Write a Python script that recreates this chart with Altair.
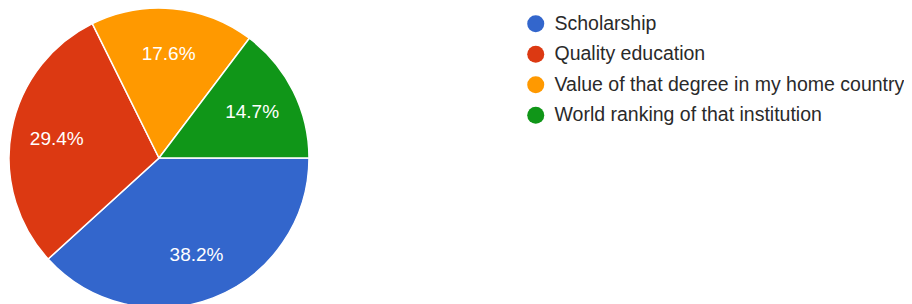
import math
import altair as alt
import pandas as pd

categories = ["Scholarship", "Quality education", "Value of that degree in my home country", "World ranking of that institution"]
values = [38.2, 29.4, 17.6, 14.7]
labels = ["38.2%", "29.4%", "17.6%", "14.7%"]
colors = ["#3366CC", "#DC3912", "#FF9900", "#109618"]

df = pd.DataFrame({"category": categories, "value": values, "label": labels, "idx": list(range(len(categories)))})

theta_scale = alt.Scale(range=[math.pi / 2, math.pi / 2 + 2 * math.pi])
color_scale = alt.Scale(domain=categories, range=colors)

base = alt.Chart(df).encode(
    theta=alt.Theta("value:Q", stack=True, scale=theta_scale),
    order=alt.Order("idx:Q"),
)

pie = base.mark_arc(outerRadius=150, stroke="white", strokeWidth=1.5).encode(
    x=alt.value(151),
    y=alt.value(150),
    color=alt.Color(
        "category:N",
        scale=color_scale,
        sort=categories,
        legend=alt.Legend(
            title=None,
            orient="none",
            legendX=518,
            legendY=6,
            symbolType="circle",
            symbolSize=290,
            symbolStrokeWidth=0,
            labelFontSize=19.5,
            labelFont="Liberation Sans",
            labelColor="#2a2a2a",
            labelOffset=9,
            rowPadding=9.5,
            padding=0,
            labelLimit=400,
        ),
    ),
)

text = base.mark_text(radius=104, fontSize=19, font="Liberation Sans", color="white").encode(
    x=alt.value(151),
    y=alt.value(150),
    text="label:N",
)

chart = (
    alt.layer(pie, text)
    .properties(width=896, height=296, autosize=alt.AutoSizeParams(type="none"), padding=0)
    .configure_view(stroke=None)
)

chart.save("out.html", embed_options={"renderer": "svg", "actions": False})
